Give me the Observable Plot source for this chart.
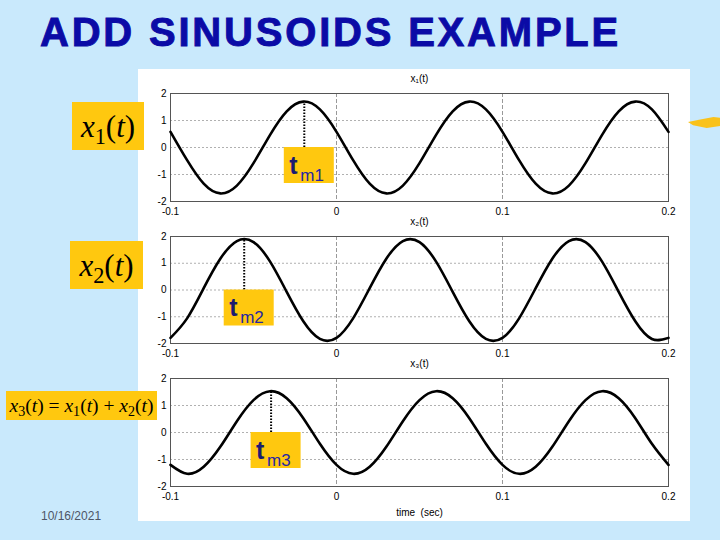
<!DOCTYPE html>
<html><head><meta charset="utf-8">
<script src="https://cdn.jsdelivr.net/npm/d3@7"></script>
<script src="https://cdn.jsdelivr.net/npm/@observablehq/plot@0.6"></script>
<style>
body{margin:0;width:720px;height:540px;background:#c9e9fc;position:relative;overflow:hidden;font-family:"Liberation Sans",Arial,sans-serif}
.abs{position:absolute}
#title{left:40px;top:12px;font-size:40px;line-height:40px;font-weight:bold;color:#0b0ba6;letter-spacing:2.8px;white-space:nowrap;-webkit-text-stroke:0.9px #0b0ba6}
#panel{left:138px;top:69px;width:552px;height:452px;background:#fff}
.lab{background:#ffc80f;font-family:"Liberation Serif","Times New Roman",serif;display:flex;align-items:center;justify-content:center;color:#000;white-space:nowrap;line-height:1}
.lab sub{font-style:normal;font-size:0.72em;vertical-align:-0.3em;line-height:0}
.lab i{font-style:italic}
#date{left:41px;top:510px;font-size:12px;line-height:12px;color:#4d5566}
#streak{left:688px;top:117px;width:34px;height:11px;background:#f9c21b;clip-path:polygon(0 45%,40% 20%,75% 0,100% 10%,100% 80%,55% 100%,15% 75%)}
.plotbox{position:absolute;left:138px}
</style></head>
<body>
<div id="title" class="abs">ADD SINUSOIDS EXAMPLE</div>
<div id="panel" class="abs"></div>
<div id="streak" class="abs"></div>
<div id="p1" class="plotbox" style="top:69px"></div>
<div id="p2" class="plotbox" style="top:212px"></div>
<div id="p3" class="plotbox" style="top:354px"></div>
<div class="abs lab" style="left:72px;top:102px;width:72px;height:48px;font-size:31px"><span><i>x</i><sub>1</sub>(<i>t</i>)</span></div>
<div class="abs lab" style="left:70px;top:241px;width:73px;height:48px;font-size:31px"><span><i>x</i><sub>2</sub>(<i>t</i>)</span></div>
<div class="abs lab" style="left:6px;top:391px;width:151px;height:29px;font-size:19.5px"><span><i>x</i><sub>3</sub>(<i>t</i>)&nbsp;=&nbsp;<i>x</i><sub>1</sub>(<i>t</i>)&nbsp;+&nbsp;<i>x</i><sub>2</sub>(<i>t</i>)</span></div>
<div id="date" class="abs">10/16/2021</div>
<script>
const times = [-0.1,-0.09,-0.08,-0.07,-0.06,-0.05,-0.04,-0.03,-0.02,-0.01,
  0,0.01,0.02,0.03,0.04,0.05,0.06,0.07,0.08,0.09,
  0.1,0.11,0.12,0.13,0.14,0.15,0.16,0.17,0.18,0.19,0.2];
const x1Values = [0.58,-0.47,-1.34,-1.70,-1.41,-0.58,0.47,1.34,1.70,1.41,
  0.58,-0.47,-1.34,-1.70,-1.41,-0.58,0.47,1.34,1.70,1.41,
  0.58,-0.47,-1.34,-1.70,-1.41,-0.58,0.47,1.34,1.70,1.41,0.58];
const x2Values = [-1.79,-1.06,0.07,1.17,1.83,1.79,1.06,-0.07,-1.17,-1.83,
  -1.79,-1.06,0.07,1.17,1.83,1.79,1.06,-0.07,-1.17,-1.83,
  -1.79,-1.06,0.07,1.17,1.83,1.79,1.06,-0.07,-1.17,-1.83,-1.79];
const x3Values = [-1.20,-1.53,-1.27,-0.53,0.42,1.20,1.53,1.27,0.53,-0.42,
  -1.20,-1.53,-1.27,-0.53,0.42,1.20,1.53,1.27,0.53,-0.42,
  -1.20,-1.53,-1.27,-0.53,0.42,1.20,1.53,1.27,0.53,-0.42,-1.20];
const peakTimes = [-0.0194, -0.0556, -0.0394];
const peakValues = [1.70, 1.90, 1.53];
const markerNames = ["m1", "m2", "m3"];
const panelTitles = ["x\u2081(t)", "x\u2082(t)", "x\u2083(t)"];
const xTicks = [-0.1, 0, 0.1, 0.2];
const yTicks = [-2, -1, 0, 1, 2];
const xLabel = "time  (sec)";

const seriesList = [x1Values, x2Values, x3Values];
const YELLOW = "#ffc80f";

function makePanel(i, last) {
  const data = times.map((t, k) => ({t, v: seriesList[i][k]}));
  const peak = [{t: peakTimes[i], v: peakValues[i], m: markerNames[i]}];
  const marginBottom = last ? 30 : 14;
  const height = last ? 162 : (i === 0 ? 146 : 145);
  const marks = [
    Plot.ruleY([-1, 0, 1], {stroke: "#b0b0b0", strokeDasharray: "2,2"}),
    Plot.ruleX([0, 0.1], {stroke: "#999", strokeDasharray: "4,2"}),
    Plot.frame({stroke: "#555"}),
    Plot.axisX(xTicks, {tickSize: 0, tickPadding: 6, tickFormat: d => String(d), label: null}),
    Plot.axisY(yTicks, {tickSize: 0, tickPadding: 4, tickFormat: d => String(d), label: null}),
    Plot.line(data, {x: "t", y: "v", curve: "natural", stroke: "#000", strokeWidth: 2.6}),
    Plot.ruleX(peak, {x: "t", y1: 0, y2: "v", stroke: "#000", strokeWidth: 2, strokeDasharray: "1.5,1.5"}),
    Plot.rect(peak, {x1: "t", x2: "t", y1: 0, y2: 0, insetLeft: -20, insetRight: -30, insetTop: 0, insetBottom: -36, fill: YELLOW}),
    Plot.text(peak, {x: "t", y: 0, text: d => "t", dx: -15, dy: 26, lineAnchor: "bottom", textAnchor: "start", fontSize: 25, fontWeight: "bold", fill: "#1b1b70"}),
    Plot.text(peak, {x: "t", y: 0, text: "m", dx: -4, dy: 33, lineAnchor: "bottom", textAnchor: "start", fontSize: 17, fill: "#2626a3"}),
    Plot.text([panelTitles[i]], {frameAnchor: "top", dy: -12, lineAnchor: "bottom", fontSize: 10, fill: "#000"})
  ];
  if (last) {
    marks.push(Plot.text([xLabel.replace(/ /g, "\u00a0")], {frameAnchor: "bottom", dy: 29, lineAnchor: "bottom", fontSize: 10, fill: "#000"}));
  }
  return Plot.plot({
    width: 552,
    height,
    marginLeft: 32,
    marginRight: 22,
    marginTop: 24,
    marginBottom,
    x: {domain: [-0.1, 0.2], label: null},
    y: {domain: [-2, 2], label: null},
    style: {background: "transparent", fontFamily: "'Liberation Sans', Arial, 'DejaVu Sans', sans-serif", fontSize: "10px", color: "#000", overflow: "visible"},
    marks
  });
}
document.getElementById("p1").appendChild(makePanel(0, false));
document.getElementById("p2").appendChild(makePanel(1, false));
document.getElementById("p3").appendChild(makePanel(2, true));
</script>
</body></html>
